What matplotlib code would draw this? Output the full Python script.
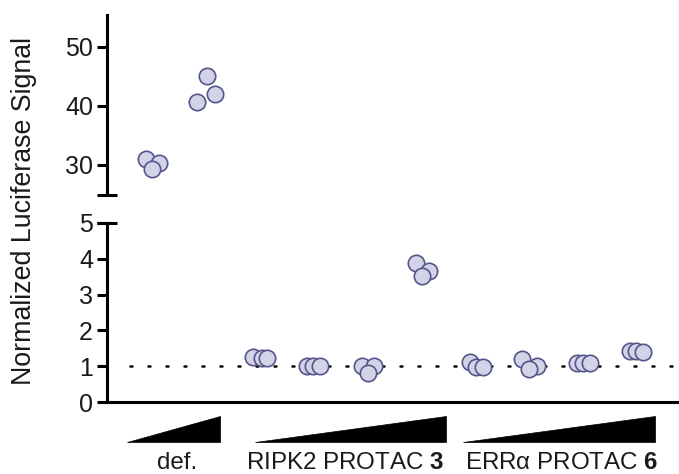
import matplotlib
matplotlib.use("Agg")
import matplotlib.pyplot as plt
from matplotlib.patches import Polygon
import matplotlib.transforms as mtransforms

plt.rcParams['font.family'] = ['Liberation Sans', 'DejaVu Sans']
plt.rcParams['mathtext.fontset'] = 'custom'
plt.rcParams['mathtext.rm'] = 'Liberation Sans'
plt.rcParams['mathtext.bf'] = 'Liberation Sans:bold'

# ---- data ----
group_labels = ["def.", r"RIPK2 PROTAC $\mathbf{3}$", r"ERRα PROTAC $\mathbf{6}$"]
doses_per_group = [2, 4, 4]
values = [
    [31.0, 30.3, 29.3],   # def. low
    [45.1, 42.0, 40.7],   # def. high
    [1.25, 1.22, 1.22],   # RIPK2 PROTAC 3, dose 1
    [1.00, 1.00, 1.00],   # dose 2
    [1.00, 1.00, 0.81],   # dose 3
    [3.88, 3.66, 3.52],   # dose 4
    [1.12, 0.98, 0.98],   # ERRa PROTAC 6, dose 1
    [1.20, 1.00, 0.92],   # dose 2
    [1.10, 1.10, 1.10],   # dose 3
    [1.42, 1.42, 1.40],   # dose 4
]
# horizontal scatter spread of replicate dots (x units)
jitter = [
    [-0.11, 0.13, 0.00],
    [0.02, 0.17, -0.17],
    [-0.13, 0.04, 0.13],
    [-0.13, -0.02, 0.11],
    [-0.11, 0.11, 0.00],
    [-0.11, 0.13, 0.00],
    [-0.11, 0.00, 0.13],
    [-0.15, 0.13, -0.02],
    [-0.13, -0.02, 0.11],
    [-0.15, -0.04, 0.09],
]
baseline = 1.0

W, H = 679, 474
fig = plt.figure(figsize=(W / 100, H / 100), dpi=100)

def fx(px):
    return px / W

def fy(py):
    return 1 - py / H

left_px, right_px = 107, 679
ax_top = fig.add_axes([fx(left_px), fy(195), fx(right_px - left_px), (195 - 15) / H])
ax_bot = fig.add_axes([fx(left_px), fy(402), fx(right_px - left_px), (402 - 223) / H])

xlim = (-0.833, 9.76)
mfc = '#D3D3E8'
mec = '#55558A'
lw_sp = 2.2
fs = 18
txt_color = '#1a1a1a'

for ax in (ax_top, ax_bot):
    ax.set_xlim(*xlim)
    ax.spines['top'].set_visible(False)
    ax.spines['right'].set_visible(False)
    ax.spines['left'].set_linewidth(lw_sp)
    ax.spines['bottom'].set_linewidth(lw_sp)
    ax.tick_params(axis='y', length=7, width=lw_sp, labelsize=fs, pad=3,
                   labelcolor=txt_color)
    ax.tick_params(axis='x', bottom=False, labelbottom=False)
    ax.patch.set_visible(False)

ax_top.spines['bottom'].set_visible(False)
ax_top.set_ylim(24.9, 55.4)
ax_top.set_yticks([30, 40, 50])
ax_bot.set_ylim(0, 5)
ax_bot.set_yticks([0, 1, 2, 3, 4, 5])
ax_bot.spines['left'].set_bounds(0, 5)

# break caps
for ax, yv in ((ax_top, 0.0), (ax_bot, 1.0)):
    ax.plot([-10 / (right_px - left_px), 10 / (right_px - left_px)], [yv, yv],
            transform=ax.transAxes, color='black', lw=lw_sp, clip_on=False,
            solid_capstyle='butt')

# baseline dotted line
ax_bot.plot([-0.41, xlim[1]], [baseline, baseline], color='black', lw=1.8,
            linestyle=(0, (0.8, 6.4)), dash_capstyle='round', zorder=1, clip_on=False)

# dots
for i, (vals, offs) in enumerate(zip(values, jitter)):
    for v, o in zip(vals, offs):
        ax = ax_top if v > 5 else ax_bot
        ax.plot(i + o, v, 'o', ms=11.8, mfc=mfc, mec=mec, mew=1.2, zorder=3,
                clip_on=False)

# wedges and group labels
trans = mtransforms.blended_transform_factory(ax_bot.transData, fig.transFigure)
wedge_pad = [(-0.46, 0.26), (-0.09, 0.44), (-0.24, 0.31)]
label_centers = [0.46, 3.57, 7.59]
start = 0
for g, (n, lab) in enumerate(zip(doses_per_group, group_labels)):
    x0 = start + wedge_pad[g][0]
    x1 = start + n - 1 + wedge_pad[g][1]
    poly = Polygon([(x0, fy(442)), (x1, fy(442)), (x1, fy(416))], closed=True,
                   facecolor='black', edgecolor='black', lw=0.5, transform=trans,
                   clip_on=False)
    fig.add_artist(poly)
    fig.text(label_centers[g], fy(469), lab, transform=trans, ha='center',
             va='baseline', fontsize=17.4, color=txt_color)
    start += n

fig.text(fx(24), fy(211), "Normalized Luciferase Signal", rotation=90,
         ha='center', va='center', fontsize=19.3, color=txt_color)

fig.savefig("out.png", dpi=100)
